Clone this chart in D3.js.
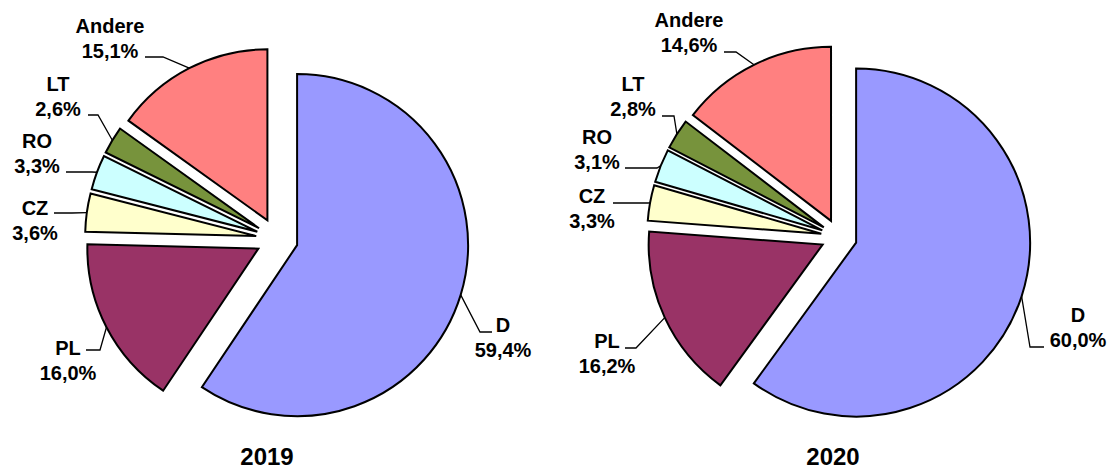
<!DOCTYPE html>
<html>
<head>
<meta charset="utf-8">
<script src="https://cdn.jsdelivr.net/npm/d3@7"></script>
<style>
body{margin:0;background:#fff;}
text{font-family:Arial,"Liberation Sans",sans-serif;font-weight:bold;fill:#000;}
</style>
</head>
<body>
<svg id="chart" width="1109" height="470"></svg>
<script>
// categories, clockwise from 12 o'clock
const countries = ["D", "PL", "CZ", "RO", "LT", "Andere"];
const colors = ["#9999ff", "#993366", "#ffffcc", "#ccffff", "#77933c", "#ff8080"];
const years = ["2019", "2020"];
const shares2019 = [59.4, 16.0, 3.6, 3.3, 2.6, 15.1];
const shares2020 = [60.0, 16.2, 3.3, 3.1, 2.8, 14.6];
const pctLabels2019 = ["59,4%", "16,0%", "3,6%", "3,3%", "2,6%", "15,1%"];
const pctLabels2020 = ["60,0%", "16,2%", "3,3%", "3,1%", "2,8%", "14,6%"];

// layout of each pie (center, radius, explode distance)
const pies = [
  {year: years[0], values: shares2019, pct: pctLabels2019, cx: 277, cy: 239, r: 171, explode: 21, titleX: 267,
   // label: text center x, baseline of first line, leader end, leader elbow (relative to pie center)
   labels: [
     {tx: 226, ty: 93, end: [215, 93], elbow: [203, 93]},
     {tx: -209, ty: 116, end: [-191, 111], elbow: [-177, 111]},
     {tx: -242, ty: -24, end: [-223, -26], elbow: [-205, -26]},
     {tx: -240, ty: -91, end: [-211, -67], elbow: [-185, -67]},
     {tx: -219, ty: -148, end: [-189, -124], elbow: [-179, -124]},
     {tx: -167, ty: -206, end: [-132, -182], elbow: [-114, -182]}
   ]},
  {year: years[1], values: shares2020, pct: pctLabels2020, cx: 839, cy: 237, r: 174, explode: 18, titleX: 833,
   labels: [
     {tx: 239, ty: 85, end: [205, 110], elbow: [191, 110]},
     {tx: -232, ty: 111, end: [-214, 111], elbow: [-203, 111]},
     {tx: -247, ty: -34, end: [-226, -34], elbow: [-191, -34]},
     {tx: -242, ty: -93, end: [-214, -69], elbow: [-182, -69]},
     {tx: -206, ty: -146, end: [-177, -121], elbow: [-165, -121]},
     {tx: -150, ty: -210, end: [-115, -185], elbow: [-103, -185]}
   ]}
];

const svg = d3.select("#chart");
const pie = d3.pie().sort(null).value(d => d);

pies.forEach(function(p){
  const g = svg.append("g").attr("transform", "translate(" + p.cx + "," + p.cy + ")");
  const arc = d3.arc().innerRadius(0).outerRadius(p.r);
  const arcs = pie(p.values);

  const offset = function(d){
    const mid = (d.startAngle + d.endAngle) / 2;
    return [p.explode * Math.sin(mid), -p.explode * Math.cos(mid)];
  };

  g.selectAll("path.slice")
    .data(arcs)
    .join("path")
      .attr("class", "slice")
      .attr("transform", d => "translate(" + offset(d) + ")")
      .attr("d", arc)
      .attr("fill", (d, i) => colors[i])
      .attr("stroke", "#000")
      .attr("stroke-width", 2)
      .attr("stroke-linejoin", "miter");

  // leader lines: label -> elbow -> middle of the slice's outer edge
  g.selectAll("polyline.leader")
    .data(arcs)
    .join("polyline")
      .attr("class", "leader")
      .attr("fill", "none")
      .attr("stroke", "#000")
      .attr("stroke-width", 1.3)
      .attr("points", function(d, i){
        const mid = (d.startAngle + d.endAngle) / 2;
        const o = offset(d);
        const ax = o[0] + p.r * Math.sin(mid), ay = o[1] - p.r * Math.cos(mid);
        const l = p.labels[i];
        return [l.end, l.elbow, [ax, ay]].map(pt => pt.join(",")).join(" ");
      });

  const lab = g.selectAll("text.lab")
    .data(arcs)
    .join("text")
      .attr("class", "lab")
      .attr("text-anchor", "middle")
      .attr("font-size", 20)
      .attr("x", (d, i) => p.labels[i].tx)
      .attr("y", (d, i) => p.labels[i].ty);
  lab.append("tspan").attr("x", (d, i) => p.labels[i].tx).text((d, i) => countries[i]);
  lab.append("tspan").attr("x", (d, i) => p.labels[i].tx).attr("dy", 25).text((d, i) => p.pct[i]);

  svg.append("text")
    .attr("x", p.titleX)
    .attr("y", 465)
    .attr("text-anchor", "middle")
    .attr("font-size", 24)
    .text(p.year);
});
</script>
</body>
</html>
